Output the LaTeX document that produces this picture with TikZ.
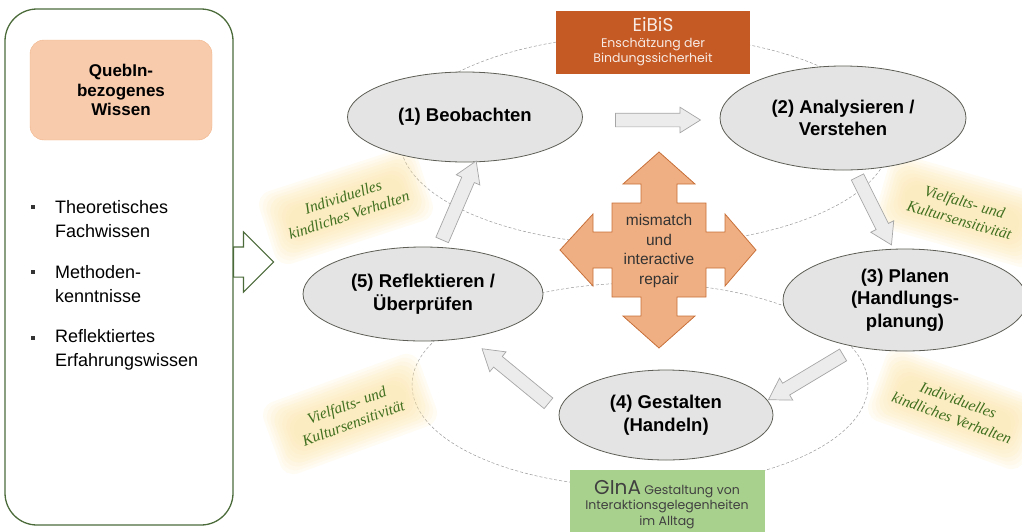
\documentclass[tikz,border=0pt]{standalone}
\usepackage{fontspec}
\setmainfont{Liberation Sans}
\newfontfamily\toolfont{Poppins}
\newfontfamily\notefont{Liberation Serif}
\usetikzlibrary{shapes.geometric,shapes.arrows}

\definecolor{frame}{HTML}{4C6B3A}
\definecolor{peach}{HTML}{F8CBAD}
\definecolor{peachline}{HTML}{F1B48A}
\definecolor{rust}{HTML}{C55A24}
\definecolor{sage}{HTML}{A9D18E}
\definecolor{repairfill}{HTML}{F0AF82}
\definecolor{repairline}{HTML}{C8703A}
\definecolor{phasefill}{HTML}{E4E4E4}
\definecolor{phaseline}{HTML}{5E5E56}
\definecolor{notetext}{HTML}{3F6F1F}
\definecolor{glow}{HTML}{FBE3A4}

\tikzset{
  phase/.style={ellipse, draw=phaseline, fill=phasefill, line width=0.8pt,
    inner sep=0pt, align=center, font=\bfseries\fontsize{18.5}{22.5}\selectfont},
  flow/.style={single arrow, draw=gray!70, fill=gray!15, line width=0.7pt,
    minimum width=25pt, single arrow head extend=6pt, single arrow tip angle=64,
    inner xsep=0pt, inner ysep=6.5pt, allow upside down},
  guide/.style={densely dashed, draw=gray!80, line width=0.5pt},
  glowlayer/.style={fill=glow, fill opacity=0.12, rounded corners=14pt, inner sep=0pt},
  note/.style={text=notetext, align=center, inner sep=0pt,
    font=\notefont\itshape\fontsize{15.5}{19}\selectfont},
  toolbox/.style={align=center, inner sep=0pt, font=\toolfont\fontsize{12.5}{15.5}\selectfont},
  item/.style={anchor=west, align=left, inner sep=0pt, font=\fontsize{18}{24}\selectfont},
  dot/.style={fill=black!80, minimum size=3.5pt, inner sep=0pt}
}

\begin{document}
\begin{tikzpicture}[x=1pt, y=-1pt]
  \useasboundingbox (0,0) rectangle (1022,531);
  % guide ellipses behind the cycle
  \draw[guide] (645,140) ellipse [x radius=245pt, y radius=105pt];
  \draw[guide] (640,385) ellipse [x radius=228pt, y radius=102pt];

  % soft glow behind the notes
  \foreach \x/\y/\a in {346/206/18, 962/211/-16, 350/414/20, 955/409/-20}
    \foreach \g in {0,3,...,24}
      \node[glowlayer, rotate=\a, minimum width=166pt-2*\g pt,
        minimum height=76pt-2*\g pt] at (\x,\y) {};

  % notes
  \node[note, rotate=18] (noteTL) at (346,206) {Individuelles\\kindliches Verhalten};
  \node[note, rotate=-16] (noteTR) at (962,211) {Vielfalts- und\\Kultursensitivität};
  \node[note, rotate=20] (noteBL) at (350,414) {Vielfalts- und\\Kultursensitivität};
  \node[note, rotate=-20] (noteBR) at (955,409) {Individuelles\\kindliches Verhalten};

  % knowledge box
  \node[draw=frame, line width=1.3pt, rounded corners=32pt,
    minimum width=228pt, minimum height=516pt] (wissen) at (119,267) {};
  \node[fill=peach, draw=peachline, rounded corners=14pt, minimum width=182pt,
    minimum height=100pt, align=center,
    font=\bfseries\fontsize{17}{19.5}\selectfont] (quebin) at (121,90) {QuebIn-\\bezogenes\\Wissen};
  \node[dot] (dot1) at (33,207) {};
  \node[dot] (dot2) at (33,272) {};
  \node[dot] (dot3) at (33,338) {};
  \node[item] (item1) at (55,219) {Theoretisches\\Fachwissen};
  \node[item] (item2) at (55,284) {Methoden-\\kenntnisse};
  \node[item] (item3) at (55,350) {Reflektiertes\\Erfahrungswissen};
  \node[single arrow, draw=frame, fill=white, line width=1.1pt, minimum width=59pt,
    minimum height=40pt, single arrow head extend=15pt, inner xsep=0pt,
    inner ysep=14.5pt, anchor=tail] (inflow) at (233,262) {};

  % phases
  \node[phase, minimum width=235pt, minimum height=90pt] (observe) at (465,117) {(1) Beobachten};
  \node[phase, minimum width=246pt, minimum height=104pt] (analyse) at (843,118) {(2) Analysieren /\\Verstehen};
  \node[phase, minimum width=244pt, minimum height=102pt] (plan) at (905,300) {(3) Planen\\(Handlungs-\\planung)};
  \node[phase, minimum width=214pt, minimum height=90pt] (act) at (666,415) {(4) Gestalten\\(Handeln)};
  \node[phase, minimum width=240pt, minimum height=94pt] (reflect) at (423,294) {(5) Reflektieren /\\Überprüfen};

  % flow arrows between the phases
  \coordinate (f12a) at (610,120); \coordinate (f12b) at (695,120);
  \coordinate (f23a) at (855,172); \coordinate (f23b) at (889,240);
  \coordinate (f34a) at (848,352); \coordinate (f34b) at (773,397);
  \coordinate (f45a) at (553,407); \coordinate (f45b) at (486,352);
  \coordinate (f51a) at (440,245); \coordinate (f51b) at (474,166);
  \path (f12a) -- node[flow, sloped, minimum height=85pt] (flow12) {} (f12b);
  \path (f23a) -- node[flow, sloped, minimum height=76pt] (flow23) {} (f23b);
  \path (f34a) -- node[flow, sloped, minimum height=87pt] (flow34) {} (f34b);
  \path (f45a) -- node[flow, sloped, minimum height=86pt] (flow45) {} (f45b);
  \path (f51a) -- node[flow, sloped, minimum height=86pt] (flow51) {} (f51b);

  % mismatch cross
  \draw[fill=repairfill, draw=repairline, line width=0.8pt, shift={(659,250)}]
    (0,-98) -- (36,-66) -- (18,-66) -- (18,-47) -- (47,-47) -- (47,-18)
    -- (66,-18) -- (66,-36) -- (97,0) -- (66,36) -- (66,18) -- (47,18)
    -- (47,47) -- (18,47) -- (18,66) -- (36,66) -- (0,98) -- (-36,66)
    -- (-18,66) -- (-18,47) -- (-47,47) -- (-47,18) -- (-66,18) -- (-66,36)
    -- (-99,0) -- (-66,-36) -- (-66,-18) -- (-47,-18) -- (-47,-47)
    -- (-18,-47) -- (-18,-66) -- (-36,-66) -- cycle;
  \node[align=center, inner sep=0pt, text=black!80,
    font=\fontsize{15.5}{19.5}\selectfont] (repair) at (659,251) {mismatch\\und\\interactive\\repair};

  % tools
  \node[toolbox, fill=rust, minimum width=194pt, minimum height=63pt,
    text=white!88!rust] (eibis) at (653,42) {{\fontsize{18.5}{21}\selectfont EiBiS}\\Enschätzung der\\Bindungssicherheit};
  \node[toolbox, fill=sage, minimum width=195pt, minimum height=68pt, anchor=north,
    text=black!75] (gina) at (667,470) {{\fontsize{20}{21}\selectfont GInA} Gestaltung von\\Interaktionsgelegenheiten\\im Alltag};
\end{tikzpicture}
\end{document}
